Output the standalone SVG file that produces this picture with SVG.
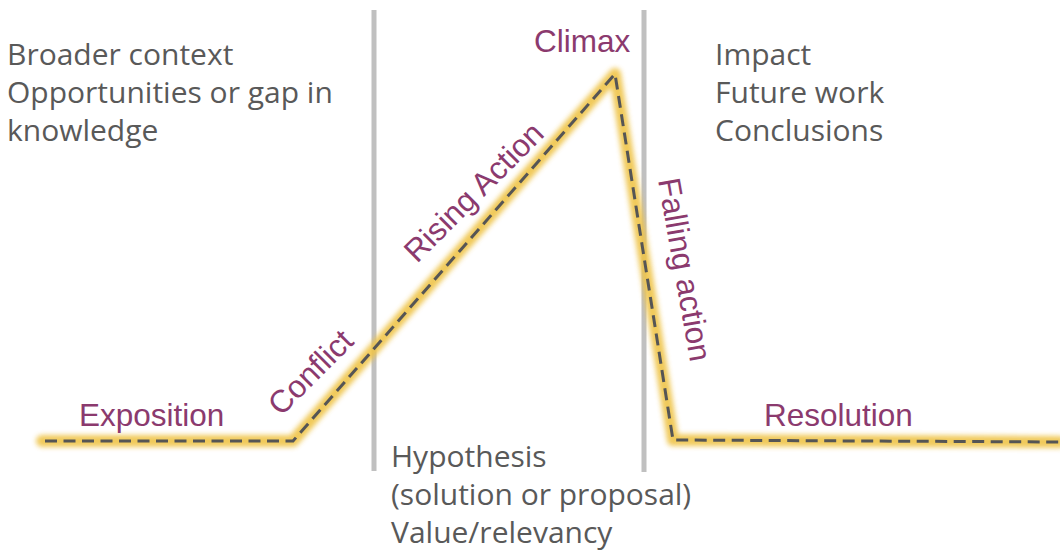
<svg xmlns="http://www.w3.org/2000/svg" width="1060" height="551" viewBox="0 0 1060 551">
  <style>
    .note { font-family: "Open Sans", "Noto Sans", sans-serif; font-size: 30px; fill: #595959; }
    .stage { font-family: "Liberation Sans", Arial, sans-serif; font-size: 31.5px; fill: #8b3a6e; }
    .divider { stroke: #c0c0c0; stroke-width: 5; fill: none; }
    .glow { stroke: #efc44a; stroke-width: 12; fill: none; stroke-linejoin: round; stroke-linecap: round; opacity: 0.9; }
    .arc { stroke: #555555; stroke-width: 3; fill: none; stroke-dasharray: 12 6.5; stroke-linejoin: miter; }
  </style>
  <defs>
    <filter id="soft" x="-10%" y="-10%" width="120%" height="120%">
      <feGaussianBlur stdDeviation="2.8"/>
    </filter>
  </defs>
  <rect width="1060" height="551" fill="#ffffff"/>

  <!-- section dividers -->
  <g id="dividers">
    <line class="divider" x1="374" y1="10" x2="374" y2="471"/>
    <line class="divider" x1="644" y1="10" x2="644" y2="472"/>
  </g>

  <!-- story arc -->
  <g id="connectors">
    <path class="glow" filter="url(#soft)" d="M42 441 L293 441 L615 74 L673 440 L1060 442"/>
    <path class="arc" d="M45 441 L293 441 L615 74 L673 440 L1060 442"/>
  </g>

  <!-- notes per section -->
  <g id="intro-notes">
    <text class="note" x="7" y="65">Broader context</text>
    <text class="note" x="7" y="103">Opportunities or gap in</text>
    <text class="note" x="7" y="141">knowledge</text>
  </g>
  <g id="outro-notes">
    <text class="note" x="715" y="65">Impact</text>
    <text class="note" x="715" y="103">Future work</text>
    <text class="note" x="715" y="141">Conclusions</text>
  </g>
  <g id="middle-notes">
    <text class="note" x="391" y="467">Hypothesis</text>
    <text class="note" x="391" y="505">(solution or proposal)</text>
    <text class="note" x="391" y="543">Value/relevancy</text>
  </g>

  <!-- stage labels -->
  <g id="exposition"><text class="stage" x="79" y="426">Exposition</text></g>
  <g id="conflict"><text class="stage" transform="translate(281 417) rotate(-45)">Conflict</text></g>
  <g id="rising-action"><text class="stage" transform="translate(417 264) rotate(-45)">Rising Action</text></g>
  <g id="climax"><text class="stage" x="534" y="52">Climax</text></g>
  <g id="falling-action"><text class="stage" transform="translate(658 180) rotate(80)">Falling action</text></g>
  <g id="resolution"><text class="stage" x="764" y="426">Resolution</text></g>
</svg>
